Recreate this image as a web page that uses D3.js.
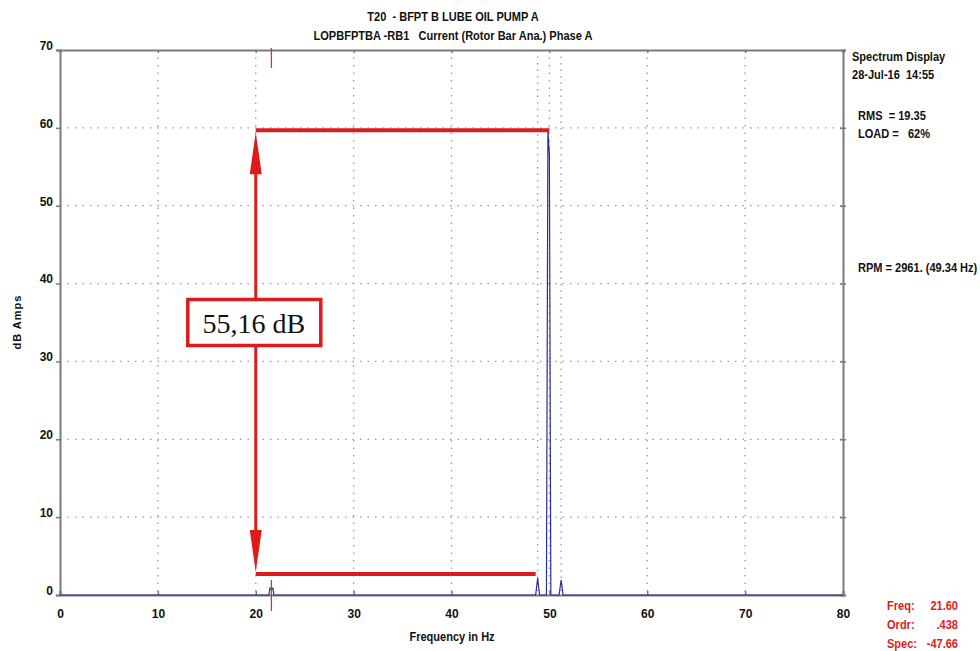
<!DOCTYPE html>
<html>
<head>
<meta charset="utf-8">
<script src="https://cdn.jsdelivr.net/npm/d3@7"></script>
<style>
  body { margin: 0; background: #fff; }
  text { font-family: "Liberation Sans", Arial, sans-serif; font-weight: bold; white-space: pre; }
</style>
</head>
<body>
<div id="chart"></div>
<script>
// spectrum points (Hz, dB), values below 0 are clipped by the display
var freqHz = [0, 21.35, 21.45, 21.6, 21.75, 21.85, 48.6, 48.75, 48.8, 48.85, 49.0, 49.7, 49.85, 50.0, 50.15, 51.0, 51.15, 51.2, 51.25, 51.4, 80];
var ampDb  = [0, 0, 0.9, 0.7, 0.9, 0, 0, 1.6, 2.2, 1.6, 0, 0, 59.7, 56.5, 0, 0, 1.5, 1.9, 1.5, 0, 0];

var xTicks = [0, 10, 20, 30, 40, 50, 60, 70, 80];
var yTicks = [0, 10, 20, 30, 40, 50, 60, 70];
var sidebandHz = [48.8, 51.2];
var cursorHz = 21.6;

var titleLines = ["T20  - BFPT B LUBE OIL PUMP A", "LOPBFPTBA -RB1   Current (Rotor Bar Ana.) Phase A"];
var infoTop = ["Spectrum Display", "28-Jul-16  14:55"];
var infoMid = ["RMS  = 19.35", "LOAD =   62%"];
var infoRpm = "RPM = 2961. (49.34 Hz)";
var cursorNames = ["Freq:", "Ordr:", "Spec:"];
var cursorVals = ["21.60", ".438", "-47.66"];

// annotation drawn over the chart (Hz / dB)
var annTopLine = [20, 50, 59.7];   // x0, x1, y
var annBotLine = [20, 48.6, 2.7];
var annArrowX = 20;
var annLabel = "55,16 dB";
var annLabelPos = [19.8, 35];

var svgWidth = 980, svgHeight = 651;
var margin = {top: 50, right: 137, bottom: 56, left: 60};
var width = svgWidth - margin.left - margin.right;
var height = svgHeight - margin.top - margin.bottom;

var svg = d3.select("#chart").append("svg")
  .attr("width", svgWidth)
  .attr("height", svgHeight);

var g = svg.append("g")
  .attr("transform", `translate(${margin.left}, ${margin.top})`);

var x = d3.scaleLinear().domain([0, 80]).range([0, width]);
var y = d3.scaleLinear().domain([0, 70]).range([height, 0]);

var gridColor = "#9a9a9a";
var frameColor = "#7a7a7a";
var red = "#de1b1b";
var squeeze = 0.85; // the original font is a condensed sans

// condensed text placed at (px, py)
function narrowText(parent, px, py, str, anchor, color) {
  return parent.append("text")
    .attr("transform", `translate(${px}, ${py}) scale(${squeeze}, 1)`)
    .attr("text-anchor", anchor || "start")
    .style("font-size", "13px")
    .attr("fill", color || "#111")
    .text(str);
}

// dotted grid
g.selectAll(".hgrid").data(yTicks.filter(d => d > 0 && d < 70)).enter()
  .append("line")
  .attr("x1", 0).attr("x2", width)
  .attr("y1", d => y(d)).attr("y2", d => y(d))
  .attr("stroke", gridColor).attr("stroke-width", 1.3)
  .attr("stroke-dasharray", "1.5,6");

g.selectAll(".vgrid").data(xTicks.filter(d => d > 0 && d < 80)).enter()
  .append("line")
  .attr("x1", d => x(d)).attr("x2", d => x(d))
  .attr("y1", 0).attr("y2", height)
  .attr("stroke", gridColor).attr("stroke-width", 1.3)
  .attr("stroke-dasharray", "1.5,6");

// sideband markers
g.selectAll(".sb").data(sidebandHz).enter()
  .append("line")
  .attr("x1", d => x(d)).attr("x2", d => x(d))
  .attr("y1", 0).attr("y2", height)
  .attr("stroke", gridColor).attr("stroke-width", 1.3)
  .attr("stroke-dasharray", "1.5,5");

// axes
var bottomAxis = d3.axisBottom(x).tickValues(xTicks).tickSize(-4).tickPadding(14).tickFormat(d3.format("d"));
var leftAxis = d3.axisLeft(y).tickValues(yTicks).tickSize(4).tickPadding(3).tickFormat(d3.format("d"));
var rightAxis = d3.axisRight(y).tickValues(yTicks).tickSize(3).tickFormat("");
var topAxis = d3.axisTop(x).tickValues(xTicks).tickSize(-3).tickFormat("");

var xa = g.append("g").attr("transform", `translate(0, ${height})`).call(bottomAxis);
var ya = g.append("g").call(leftAxis);
var ra = g.append("g").attr("transform", `translate(${width}, 0)`).call(rightAxis);
var ta = g.append("g").call(topAxis);

[xa, ya, ra, ta].forEach(function(a) {
  a.select(".domain").attr("stroke", frameColor).attr("stroke-width", 2);
  a.selectAll(".tick line").attr("stroke", frameColor).attr("stroke-width", 1.5);
  a.selectAll("text").attr("fill", "#111").style("font-size", "12px");
});
ya.selectAll("text").attr("dy", "-0.05em");
ra.selectAll(".tick line").attr("x1", -3);

// spectrum
var line = d3.line().x((d, i) => x(freqHz[i])).y(d => y(Math.max(0, d)));
g.append("path")
  .datum(ampDb)
  .attr("fill", "none")
  .attr("stroke", "#2b2f8f")
  .attr("stroke-width", 1.2)
  .attr("d", line);

// cursor
g.append("line")
  .attr("x1", x(cursorHz)).attr("x2", x(cursorHz))
  .attr("y1", -2).attr("y2", 18)
  .attr("stroke", "#b04050").attr("stroke-width", 1.3);
g.append("line")
  .attr("x1", x(cursorHz)).attr("x2", x(cursorHz))
  .attr("y1", height - 15).attr("y2", height + 16)
  .attr("stroke", "#b04050").attr("stroke-width", 1.3);

// annotation
g.append("line")
  .attr("x1", x(annTopLine[0])).attr("x2", x(annTopLine[1]))
  .attr("y1", y(annTopLine[2])).attr("y2", y(annTopLine[2]))
  .attr("stroke", red).attr("stroke-width", 4);
g.append("line")
  .attr("x1", x(annBotLine[0])).attr("x2", x(annBotLine[1]))
  .attr("y1", y(annBotLine[2])).attr("y2", y(annBotLine[2]))
  .attr("stroke", red).attr("stroke-width", 4);

var ax = x(annArrowX), ay0 = y(annTopLine[2]) + 2, ay1 = y(annBotLine[2]) - 2;
g.append("line")
  .attr("x1", ax).attr("x2", ax)
  .attr("y1", ay0 + 30).attr("y2", ay1 - 30)
  .attr("stroke", red).attr("stroke-width", 3);
g.append("path")
  .attr("d", `M${ax},${ay0} L${ax - 6},${ay0 + 42} L${ax + 6},${ay0 + 42} Z`)
  .attr("fill", red);
g.append("path")
  .attr("d", `M${ax},${ay1} L${ax - 6},${ay1 - 42} L${ax + 6},${ay1 - 42} Z`)
  .attr("fill", red);

var bx = x(annLabelPos[0]), by = y(annLabelPos[1]);
g.append("rect")
  .attr("x", bx - 66).attr("y", by - 23)
  .attr("width", 133).attr("height", 46)
  .attr("fill", "#fff").attr("stroke", red).attr("stroke-width", 3.5);
g.append("text")
  .attr("x", bx).attr("y", by + 10)
  .attr("text-anchor", "middle")
  .style("font-family", "'Liberation Serif', 'Times New Roman', serif")
  .style("font-weight", "normal")
  .style("font-size", "28px")
  .attr("fill", "#111")
  .text(annLabel);

// titles
titleLines.forEach(function(t, i) {
  narrowText(svg, 453, 21 + i * 19, t, "middle");
});

// axis labels
narrowText(svg, 452, 641, "Frequency in Hz", "middle");

svg.append("text")
  .attr("transform", "translate(21, 322) rotate(-90)")
  .attr("text-anchor", "middle")
  .style("font-size", "11px")
  .style("letter-spacing", "1px")
  .attr("fill", "#111")
  .text("dB Amps");

// info block
infoTop.forEach(function(t, i) { narrowText(svg, 852, 61 + i * 18, t); });
infoMid.forEach(function(t, i) { narrowText(svg, 858, 120 + i * 18, t); });
narrowText(svg, 858, 272, infoRpm);

cursorNames.forEach(function(t, i) { narrowText(svg, 887, 610 + i * 19, t, "start", red); });
cursorVals.forEach(function(t, i) { narrowText(svg, 958, 610 + i * 19, t, "end", red); });
</script>
</body>
</html>
